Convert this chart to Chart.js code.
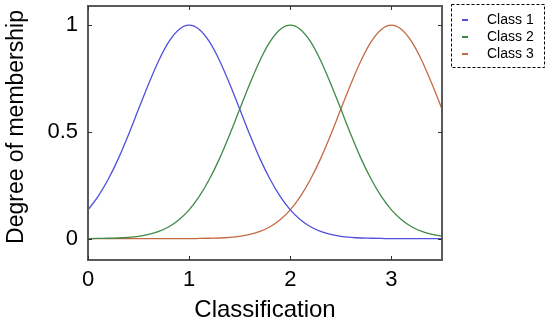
<!DOCTYPE html>
<html>
<head>
<meta charset="utf-8">
<script src="https://cdn.jsdelivr.net/npm/chart.js@4.4.1/dist/chart.umd.min.js"></script>
<style>
html,body{margin:0;padding:0;background:#fff;}
#wrap{position:relative;width:550px;height:329px;}
</style>
</head>
<body>
<div id="wrap"><canvas id="c" width="550" height="329"></canvas></div>
<script>
const xValues = [0,0.1,0.2,0.3,0.4,0.5,0.6,0.7,0.8,0.9,1.0,1.1,1.2,1.3,1.4,1.5,1.6,1.7,1.8,1.9,2.0,2.1,2.2,2.3,2.4,2.5,2.6,2.7,2.8,2.9,3.0,3.1,3.2,3.3,3.4,3.5];
const class1 = [0.135,0.198,0.278,0.375,0.487,0.607,0.726,0.835,0.923,0.980,1.000,0.980,0.923,0.835,0.726,0.607,0.487,0.375,0.278,0.198,0.135,0.089,0.056,0.034,0.020,0.011,0.006,0.003,0.002,0.001,0,0,0,0,0,0];
const class2 = [0,0.001,0.002,0.003,0.006,0.011,0.020,0.034,0.056,0.089,0.135,0.198,0.278,0.375,0.487,0.607,0.726,0.835,0.923,0.980,1.000,0.980,0.923,0.835,0.726,0.607,0.487,0.375,0.278,0.198,0.135,0.089,0.056,0.034,0.020,0.011];
const class3 = [0,0,0,0,0,0,0,0,0,0,0,0.001,0.002,0.003,0.006,0.011,0.020,0.034,0.056,0.089,0.135,0.198,0.278,0.375,0.487,0.607,0.726,0.835,0.923,0.980,1.000,0.980,0.923,0.835,0.726,0.607];
const seriesNames = ["Class 1","Class 2","Class 3"];
const seriesColors = ["#5050dc","#3f8a45","#c46a45"];
const xTicks = [0,1,2,3];
const yTicks = [0,0.5,1];
const xTitle = "Classification";
const yTitle = "Degree of membership";

const FONT = "'Liberation Sans', Arial, sans-serif";

function pts(ys){ return xValues.map((x,i)=>({x:x,y:ys[i]})); }

const frameAndLegend = {
  id:'frameAndLegend',
  afterDraw(chart){
    const ctx = chart.ctx, a = chart.chartArea;
    const xs = chart.scales.x, ys = chart.scales.y;
    ctx.save();
    // frame
    ctx.strokeStyle = '#5a5a5a';
    ctx.lineWidth = 2;
    ctx.strokeRect(a.left, a.top, a.right - a.left, a.bottom - a.top);
    // inward ticks
    ctx.lineWidth = 1;
    ctx.strokeStyle = '#333';
    ctx.beginPath();
    xTicks.forEach(v=>{
      const p = Math.round(xs.getPixelForValue(v)) + 0.5;
      ctx.moveTo(p, a.bottom); ctx.lineTo(p, a.bottom - 4);
      ctx.moveTo(p, a.top); ctx.lineTo(p, a.top + 4);
    });
    yTicks.forEach(v=>{
      const p = Math.round(ys.getPixelForValue(v)) + 0.5;
      ctx.moveTo(a.left, p); ctx.lineTo(a.left + 4, p);
      ctx.moveTo(a.right, p); ctx.lineTo(a.right - 4, p);
    });
    ctx.stroke();
    // y axis title
    ctx.save();
    ctx.translate(17, 127);
    ctx.rotate(-Math.PI/2);
    ctx.font = '23px ' + FONT;
    ctx.fillStyle = '#000';
    ctx.textAlign = 'center';
    ctx.textBaseline = 'middle';
    ctx.fillText(yTitle, 0, 0);
    ctx.restore();
    // legend box
    const lx = 451.5, ly = 4.5, lw = 93, lh = 63;
    ctx.setLineDash([3,2]);
    ctx.strokeStyle = '#000';
    ctx.lineWidth = 1;
    ctx.strokeRect(lx, ly, lw, lh);
    ctx.setLineDash([]);
    ctx.font = '14px ' + FONT;
    ctx.textBaseline = 'middle';
    ctx.fillStyle = '#000';
    chart.data.datasets.forEach((ds,i)=>{
      const y = 20 + i*17;
      ctx.strokeStyle = ds.borderColor;
      ctx.lineWidth = 2;
      ctx.beginPath();
      ctx.moveTo(462, y); ctx.lineTo(468, y);
      ctx.stroke();
      ctx.fillText(ds.label, 487, y);
    });
    ctx.restore();
  }
};

new Chart(document.getElementById('c'), {
  type:'line',
  data:{
    datasets:[
      {label:seriesNames[0], data:pts(class1), borderColor:seriesColors[0]},
      {label:seriesNames[1], data:pts(class2), borderColor:seriesColors[1]},
      {label:seriesNames[2], data:pts(class3), borderColor:seriesColors[2]}
    ].map(d=>Object.assign(d,{borderWidth:1.3,pointRadius:0,fill:false,cubicInterpolationMode:'monotone'}))
  },
  options:{
    responsive:false,
    animation:false,
    layout:{padding:{top:6,right:108,left:0,bottom:0}},
    plugins:{legend:{display:false},tooltip:{enabled:false}},
    scales:{
      x:{
        type:'linear', min:0, max:3.5,
        afterBuildTicks(s){ s.ticks = xTicks.map(v=>({value:v})); },
        afterFit(s){ s.height = 69; s.paddingLeft = 0; s.paddingRight = 0; },
        grid:{display:false, drawTicks:false},
        border:{display:false},
        ticks:{font:{family:FONT,size:22},color:'#000',padding:7,maxRotation:0},
        title:{display:true,text:xTitle,font:{family:FONT,size:24},color:'#000',padding:{top:0}}
      },
      y:{
        type:'linear', min:-0.1, max:1.09,
        afterBuildTicks(s){ s.ticks = yTicks.map(v=>({value:v})); },
        afterFit(s){ s.width = 88; s.paddingTop = 0; s.paddingBottom = 0; },
        grid:{display:false, drawTicks:false},
        border:{display:false},
        ticks:{font:{family:FONT,size:22},color:'#000',padding:10,
          callback:v=>String(v)},
        title:{display:false}
      }
    }
  },
  plugins:[frameAndLegend]
});
</script>
</body>
</html>
